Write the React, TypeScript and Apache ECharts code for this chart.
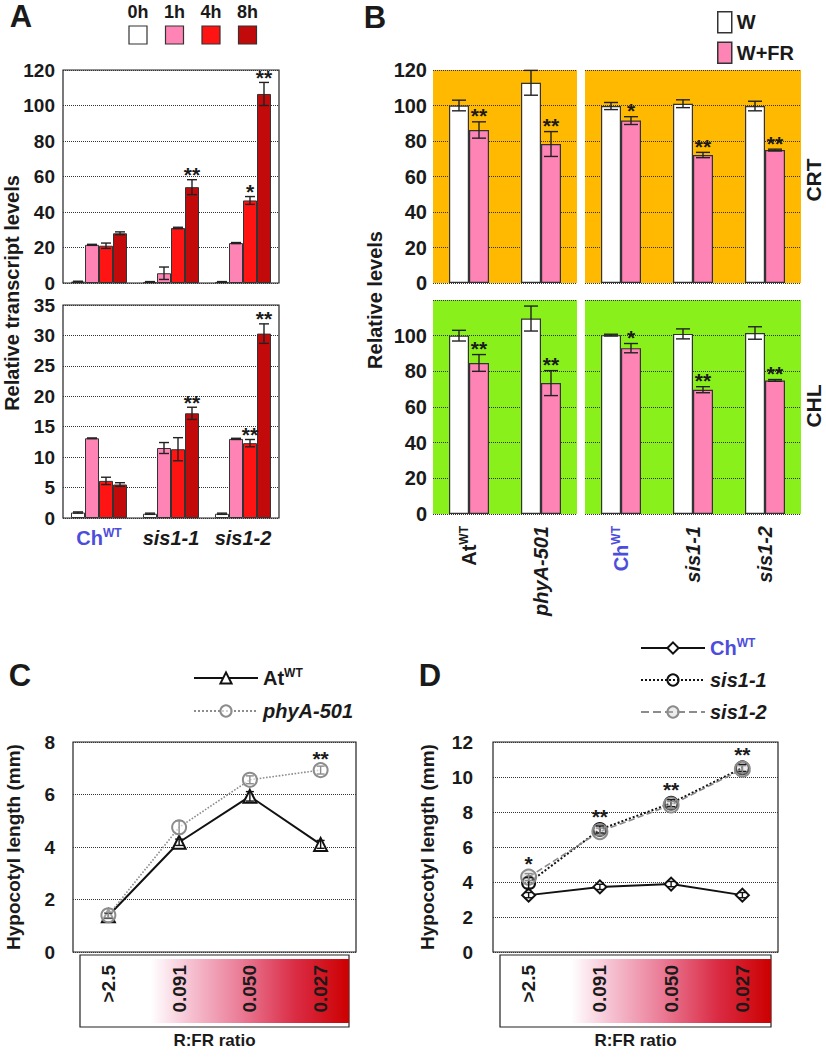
import React, { useEffect, useRef } from "react";
import * as echarts from "echarts";

const FONT = "'Liberation Sans', Arial, Helvetica, sans-serif";
const INK = "#1a1a1a";
const BLUE = "#4d4ddb";

// ---------- Panel A ----------
const genotypesA = ["ChWT", "sis1-1", "sis1-2"];
const timePoints = ["0h", "1h", "4h", "8h"];
const timeColors = ["#ffffff", "#ff84b6", "#ff1414", "#c30a0a"];
const pil1Ticks = [0, 120, 20];
const athb2Ticks = [0, 35, 5];
// rows = time points, columns = genotypes
const pil1Means = [
  [0.8, 0.6, 0.6],
  [21.5, 5.5, 22.5],
  [21, 31, 46.5],
  [28, 54, 106.5],
];
const pil1Errs = [
  [0.2, 0.2, 0.2],
  [0.3, 3.5, 0.3],
  [1.5, 0.4, 2.2],
  [0.8, 4.2, 6.5],
];
const pil1Stars = [
  ["", "", ""],
  ["", "", ""],
  ["", "", "*"],
  ["", "**", "**"],
];
const athb2Means = [
  [0.9, 0.7, 0.7],
  [13.1, 11.5, 13],
  [6.1, 11.3, 12.3],
  [5.5, 17.2, 30.3],
];
const athb2Errs = [
  [0.1, 0.1, 0.1],
  [0.05, 0.9, 0.1],
  [0.6, 1.9, 0.6],
  [0.3, 1.0, 1.6],
];
const athb2Stars = [
  ["", "", ""],
  ["", "", ""],
  ["", "", "**"],
  ["", "**", "**"],
];

// ---------- Panel B ----------
const bLeftCats = ["AtWT", "phyA-501"];
const bRightCats = ["ChWT", "sis1-1", "sis1-2"];
const treatments = ["W", "W+FR"];
const treatColors = ["#ffffff", "#ff84b6"];
const bTicks = [0, 120, 20];
const crtLeftW = [100, 112.8];
const crtLeftWErr = [3, 7];
const crtLeftFR = [86.2, 78.3];
const crtLeftFRErr = [4.6, 7];
const crtLeftStars = ["**", "**"];
const crtRightW = [99.7, 101, 99.7];
const crtRightWErr = [2, 2.2, 2.7];
const crtRightFR = [91.5, 72.1, 74.9];
const crtRightFRErr = [2.2, 1.5, 0.5];
const crtRightStars = ["*", "**", "**"];
const chlLeftW = [100, 109.6];
const chlLeftWErr = [3, 7];
const chlLeftFR = [84.7, 73.4];
const chlLeftFRErr = [4.7, 7];
const chlLeftStars = ["**", "**"];
const chlRightW = [100.3, 101, 101.5];
const chlRightWErr = [0.5, 2.8, 3.5];
const chlRightFR = [93, 69.7, 74.9];
const chlRightFRErr = [2.6, 1.7, 0.5];
const chlRightStars = ["*", "**", "**"];

// ---------- Panels C & D ----------
const ratios = [">2.5", "0.091", "0.050", "0.027"];
const cTicks = [0, 8, 2];
const dTicks = [0, 12, 2];
const atWT = [1.38, 4.18, 5.93, 4.1];
const atWTErr = [0.1, 0.12, 0.18, 0.15];
const phyA501 = [1.4, 4.75, 6.56, 6.93];
const phyA501Err = [0.1, 0.25, 0.15, 0.15];
const cStars = ["", "", "", "**"];
const chWT = [3.25, 3.72, 3.88, 3.25];
const chWTErr = [0.15, 0.15, 0.15, 0.15];
const sis11 = [3.95, 7.0, 8.5, 10.52];
const sis11Err = [0.3, 0.2, 0.2, 0.2];
const sis12 = [4.28, 6.88, 8.4, 10.45];
const sis12Err = [0.2, 0.2, 0.2, 0.2];
const dStars = ["*", "**", "**", "**"];

// ---------- helpers ----------
const rich: any = {
  n: { fontFamily: FONT, fontWeight: "bold", fontSize: 20, color: INK, lineHeight: 22 },
  i: { fontFamily: FONT, fontWeight: "bold", fontStyle: "italic", fontSize: 20, color: INK, lineHeight: 22 },
  s: { fontFamily: FONT, fontWeight: "bold", fontSize: 12, color: INK, lineHeight: 12, verticalAlign: "top" },
  c: { fontFamily: FONT, fontWeight: "bold", fontSize: 20, color: BLUE, lineHeight: 22 },
  cs: { fontFamily: FONT, fontWeight: "bold", fontSize: 12, color: BLUE, lineHeight: 12, verticalAlign: "top" },
};
function fmtName(v: string) {
  if (v === "ChWT") return "{c|Ch}{cs|WT}";
  if (v === "AtWT") return "{n|At}{s|WT}";
  return "{i|" + v + "}";
}

type Item = { cat: number; mean: number; err: number; off: number; star?: string; color?: string };

function errorBarSeries(gi: number, items: Item[], cap: number, starGap: number) {
  return {
    type: "custom",
    xAxisIndex: gi,
    yAxisIndex: gi,
    z: 10,
    silent: true,
    data: items.map((it) => [it.cat, it.mean + it.err]),
    renderItem: (params: any, api: any) => {
      const it = items[params.dataIndex];
      const top = api.coord([it.cat, it.mean + it.err]);
      const bot = api.coord([it.cat, Math.max(0, it.mean - it.err)]);
      const x = top[0] + it.off;
      const color = it.color || "#222";
      const half = cap / 2;
      const ls = { stroke: color, lineWidth: 1.4 };
      const children: any[] = [];
      if (it.err > 0) {
        children.push({ type: "line", shape: { x1: x, y1: top[1], x2: x, y2: bot[1] }, style: ls });
        children.push({ type: "line", shape: { x1: x - half, y1: top[1], x2: x + half, y2: top[1] }, style: ls });
        children.push({ type: "line", shape: { x1: x - half, y1: bot[1], x2: x + half, y2: bot[1] }, style: ls });
      }
      if (it.star) {
        children.push({
          type: "text",
          style: {
            text: it.star,
            x,
            y: top[1] - starGap,
            align: "center",
            verticalAlign: "middle",
            fontSize: 21,
            fontWeight: "bold",
            fontFamily: FONT,
            fill: INK,
          },
        });
      }
      return { type: "group", children };
    },
  };
}

const grids = [
  { left: 63, top: 70, width: 216, height: 213 }, // A PIL1
  { left: 63, top: 305, width: 216, height: 213 }, // A ATHB2
  { left: 433, top: 70, width: 144, height: 213 }, // B CRT left
  { left: 585, top: 70, width: 216, height: 213 }, // B CRT right
  { left: 433, top: 300, width: 144, height: 214 }, // B CHL left
  { left: 585, top: 300, width: 216, height: 214 }, // B CHL right
  { left: 73, top: 742, width: 283, height: 210 }, // C
  { left: 493, top: 742, width: 285, height: 210 }, // D
];

function buildOption() {
  const gridOpts = grids.map((g, i) => {
    const base: any = { ...g, outerBoundsMode: "none", containLabel: false };
    if (i <= 1 || i >= 6) {
      base.show = true;
      base.borderColor = "#222";
      base.borderWidth = 1.2;
      base.backgroundColor = "transparent";
    } else {
      const orange = i === 2 || i === 3;
      base.show = true;
      base.borderWidth = 0;
      base.backgroundColor = orange ? "#ffb900" : "#8af01c";
    }
    return base;
  });

  const labelBase = { fontFamily: FONT, fontWeight: "bold", color: INK };

  const xAxes: any[] = [];
  const yAxes: any[] = [];
  const hiddenCat = (gi: number, data: string[]) => ({
    type: "category",
    gridIndex: gi,
    data,
    axisTick: { show: false },
    axisLine: { show: false },
    axisLabel: { show: false },
    splitLine: { show: false },
  });
  // A
  xAxes.push(hiddenCat(0, genotypesA));
  xAxes.push({
    ...hiddenCat(1, genotypesA),
    axisLabel: { show: true, interval: 0, hideOverlap: false, margin: 9, formatter: fmtName, rich, ...labelBase },
  });
  // B
  xAxes.push(hiddenCat(2, bLeftCats));
  xAxes.push(hiddenCat(3, bRightCats));
  xAxes.push({
    ...hiddenCat(4, bLeftCats),
    axisLabel: { show: true, interval: 0, hideOverlap: false, rotate: 90, margin: 12, formatter: fmtName, rich, ...labelBase },
  });
  xAxes.push({
    ...hiddenCat(5, bRightCats),
    axisLabel: { show: true, interval: 0, hideOverlap: false, rotate: 90, margin: 12, formatter: fmtName, rich, ...labelBase },
  });
  // C, D
  [6, 7].forEach((gi) => {
    xAxes.push({
      ...hiddenCat(gi, ratios),
      axisLabel: { show: true, interval: 0, hideOverlap: false, rotate: 90, margin: 13, fontSize: 19, ...labelBase },
      name: "R:FR ratio",
      nameLocation: "middle",
      nameGap: 80,
      nameMoveOverlap: false,
      nameTextStyle: { fontSize: 17, ...labelBase },
    });
  });

  const valAxis = (gi: number, ticks: number[], show: boolean, margin: number, fontSize: number, hideMax = false) => ({
    type: "value",
    gridIndex: gi,
    min: ticks[0],
    max: ticks[1],
    interval: ticks[2],
    axisLine: { show: false },
    axisTick: { show: false },
    axisLabel: {
      show,
      margin,
      fontSize,
      ...labelBase,
      formatter: (v: number) => (hideMax && v === ticks[1] ? "" : String(v)),
    },
    splitLine: { show: true, lineStyle: { type: "dotted", color: "#333", width: 1 } },
  });
  yAxes.push(valAxis(0, pil1Ticks, true, 8, 19));
  yAxes.push(valAxis(1, athb2Ticks, true, 8, 19));
  yAxes.push(valAxis(2, bTicks, true, 6, 20));
  yAxes.push(valAxis(3, bTicks, false, 6, 20));
  yAxes.push(valAxis(4, bTicks, true, 6, 20, true));
  yAxes.push(valAxis(5, bTicks, false, 6, 20));
  yAxes.push({ ...valAxis(6, cTicks, true, 18, 19), name: "Hypocotyl length (mm)", nameLocation: "middle", nameGap: 50, nameMoveOverlap: false, nameTextStyle: { fontSize: 19, ...labelBase } });
  yAxes.push({ ...valAxis(7, dTicks, true, 20, 19), name: "Hypocotyl length (mm)", nameLocation: "middle", nameGap: 56, nameMoveOverlap: false, nameTextStyle: { fontSize: 19, ...labelBase } });

  const series: any[] = [];

  // Panel A bars
  const aPanels = [
    { gi: 0, means: pil1Means, errs: pil1Errs, stars: pil1Stars },
    { gi: 1, means: athb2Means, errs: athb2Errs, stars: athb2Stars },
  ];
  const aBw = 14;
  aPanels.forEach((p) => {
    const items: Item[] = [];
    timePoints.forEach((t, ti) => {
      series.push({
        type: "bar",
        name: t,
        xAxisIndex: p.gi,
        yAxisIndex: p.gi,
        data: p.means[ti],
        barWidth: aBw,
        barGap: "0%",
        silent: true,
        itemStyle: { color: timeColors[ti], borderColor: "#333", borderWidth: 1 },
      });
      genotypesA.forEach((g, gIdx) => {
        items.push({ cat: gIdx, mean: p.means[ti][gIdx], err: p.errs[ti][gIdx], off: (ti - 1.5) * aBw, star: p.stars[ti][gIdx] });
      });
    });
    series.push(errorBarSeries(p.gi, items, 10, 5));
  });

  // Panel B bars
  const bPanels = [
    { gi: 2, cats: bLeftCats, w: crtLeftW, we: crtLeftWErr, fr: crtLeftFR, fe: crtLeftFRErr, st: crtLeftStars },
    { gi: 3, cats: bRightCats, w: crtRightW, we: crtRightWErr, fr: crtRightFR, fe: crtRightFRErr, st: crtRightStars },
    { gi: 4, cats: bLeftCats, w: chlLeftW, we: chlLeftWErr, fr: chlLeftFR, fe: chlLeftFRErr, st: chlLeftStars },
    { gi: 5, cats: bRightCats, w: chlRightW, we: chlRightWErr, fr: chlRightFR, fe: chlRightFRErr, st: chlRightStars },
  ];
  const bBw = 20;
  bPanels.forEach((p) => {
    const vals = [p.w, p.fr];
    const errs = [p.we, p.fe];
    const items: Item[] = [];
    treatments.forEach((t, ti) => {
      series.push({
        type: "bar",
        name: t,
        xAxisIndex: p.gi,
        yAxisIndex: p.gi,
        data: vals[ti],
        barWidth: bBw,
        barGap: "0%",
        silent: true,
        itemStyle: { color: treatColors[ti], borderColor: "#333", borderWidth: 1.2 },
      });
      p.cats.forEach((c, ci) => {
        items.push({ cat: ci, mean: vals[ti][ci], err: errs[ti][ci], off: (ti - 0.5) * bBw, star: ti === 1 ? p.st[ci] : "" });
      });
    });
    series.push(errorBarSeries(p.gi, items, 14, 6));
  });

  // Panel C lines
  const lineSeries = (gi: number, name: string, data: number[], color: string, type: string, width: number, symbol: string, size: number, fill: string) => ({
    type: "line",
    name,
    xAxisIndex: gi,
    yAxisIndex: gi,
    data,
    symbol,
    symbolSize: size,
    showSymbol: true,
    silent: true,
    lineStyle: { color, type, width },
    itemStyle: { color: fill, borderColor: color, borderWidth: 2 },
    z: 5,
  });
  series.push(lineSeries(6, "AtWT", atWT, "#111", "solid", 2, "triangle", 13, "#ffffff"));
  series.push(lineSeries(6, "phyA-501", phyA501, "#8c8c8c", "dotted", 1.6, "circle", 14, "rgba(255,255,255,0.6)"));
  const cItems: Item[] = [];
  ratios.forEach((r, i) => {
    cItems.push({ cat: i, mean: atWT[i], err: atWTErr[i], off: 0, color: "#111" });
    cItems.push({ cat: i, mean: phyA501[i], err: phyA501Err[i], off: 0, color: "#8c8c8c", star: cStars[i] });
  });
  series.push(errorBarSeries(6, cItems, 8, 8));

  // Panel D lines
  series.push(lineSeries(7, "ChWT", chWT, "#111", "solid", 2, "diamond", 13, "#ffffff"));
  series.push(lineSeries(7, "sis1-1", sis11, "#111", "dotted", 2, "circle", 13, "rgba(255,255,255,0)"));
  series.push(lineSeries(7, "sis1-2", sis12, "#8c8c8c", "dashed", 1.6, "circle", 15, "rgba(200,200,200,0.35)"));
  const dItems: Item[] = [];
  ratios.forEach((r, i) => {
    dItems.push({ cat: i, mean: chWT[i], err: chWTErr[i], off: 0, color: "#111" });
    dItems.push({ cat: i, mean: sis11[i], err: sis11Err[i], off: 0, color: "#111" });
    dItems.push({ cat: i, mean: sis12[i], err: sis12Err[i], off: 0, color: "#8c8c8c" });
    const topVal = Math.max(sis11[i] + sis11Err[i], sis12[i] + sis12Err[i]);
    dItems.push({ cat: i, mean: topVal, err: 0, off: 0, star: dStars[i] });
  });
  series.push(errorBarSeries(7, dItems, 8, 10));

  // graphics
  const txt = (text: string, x: number, y: number, size: number, extra: any = {}, rot = 0) => ({
    type: "text",
    x,
    y,
    rotation: rot,
    silent: true,
    style: { text, align: "center", verticalAlign: "middle", fontSize: size, fontWeight: "bold", fontFamily: FONT, fill: INK, ...extra },
  });
  const graphic: any[] = [
    txt("A", 21, 16, 31),
    txt("B", 375, 17, 31),
    txt("C", 20, 675, 31),
    txt("D", 430, 675, 31),
    txt("Relative transcript levels", 12, 293, 20, {}, Math.PI / 2),
    txt("Relative levels", 375, 300, 20, {}, Math.PI / 2),
    txt("CRT", 813, 180, 21, {}, Math.PI / 2),
    txt("CHL", 813, 406, 21, {}, Math.PI / 2),
  ];
  timePoints.forEach((t, i) => {
    const cx = 138 + i * 36.5;
    graphic.push(txt(t, cx, 12, 18));
    graphic.push({
      type: "rect",
      silent: true,
      shape: { x: cx - 9, y: 26, width: 18, height: 18 },
      style: { fill: timeColors[i], stroke: "#333", lineWidth: 1.2 },
    });
  });
  [6, 7].forEach((gi) => {
    const g = grids[gi];
    const bx = g.left + 7;
    const bw = g.width - 14;
    graphic.push({
      type: "rect",
      silent: true,
      z: -5,
      shape: { x: bx, y: 955, width: bw, height: 72 },
      style: { fill: "#ffffff", stroke: "#222", lineWidth: 1.2 },
    });
    graphic.push({
      type: "rect",
      silent: true,
      z: -4,
      shape: { x: bx + 1, y: 959, width: bw - 1, height: 64 },
      style: {
        fill: new echarts.graphic.LinearGradient(0, 0, 1, 0, [
          { offset: 0, color: "#ffffff" },
          { offset: 0.26, color: "#ffffff" },
          { offset: 0.4, color: "#f6c4d4" },
          { offset: 0.6, color: "#ea7a95" },
          { offset: 0.8, color: "#da2c45" },
          { offset: 1, color: "#cc0000" },
        ]),
      },
    });
  });

  const legendText = { fontSize: 20, ...labelBase, rich };
  const legends = [
    {
      data: treatments,
      orient: "vertical",
      left: 712,
      top: 6,
      icon: "rect",
      itemWidth: 14,
      itemHeight: 21,
      itemGap: 8,
      selectedMode: false,
      textStyle: { fontSize: 20, ...labelBase },
      itemStyle: { borderColor: "#333", borderWidth: 1.5 },
    },
    {
      data: ["AtWT", "phyA-501"],
      orient: "vertical",
      left: 188,
      top: 662,
      itemWidth: 64,
      itemHeight: 14,
      itemGap: 13,
      selectedMode: false,
      formatter: fmtName,
      textStyle: legendText,
    },
    {
      data: ["ChWT", "sis1-1", "sis1-2"],
      orient: "vertical",
      left: 635,
      top: 632,
      itemWidth: 64,
      itemHeight: 14,
      itemGap: 12,
      selectedMode: false,
      formatter: fmtName,
      textStyle: legendText,
    },
  ];

  return {
    animation: false,
    backgroundColor: "#ffffff",
    textStyle: { fontFamily: FONT },
    grid: gridOpts,
    xAxis: xAxes,
    yAxis: yAxes,
    legend: legends,
    series,
    graphic,
  };
}

export default function App() {
  const ref = useRef<HTMLDivElement>(null);
  useEffect(() => {
    if (!ref.current) return;
    const chart = echarts.init(ref.current, undefined, { renderer: "svg" });
    chart.setOption(buildOption() as any);
    return () => chart.dispose();
  }, []);
  return <div ref={ref} style={{ position: "absolute", left: 0, top: 0, width: 826, height: 1057 }} />;
}
